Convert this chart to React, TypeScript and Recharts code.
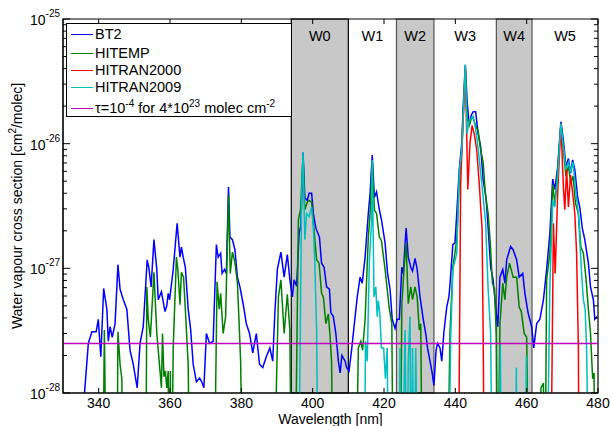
import React from 'react';
import { ComposedChart, Line, XAxis, YAxis, ReferenceArea, Legend } from 'recharts';

// wavelengths in nm, cross sections in cm^2/molec (values under 1e-28 fall off the plot)
const bt2Wl = [335.5, 337.1, 338.1, 339.3, 339.9, 340.6, 341.4, 342.3, 342.7, 343.2, 343.8, 344.6, 345.4, 346.0, 346.9, 347.9, 348.8, 349.7, 350.8, 351.6, 352.5, 353.6, 354.1, 354.7, 355.5, 356.3, 356.7, 357.6, 358.6, 359.1, 359.5, 359.9, 360.9, 362.0, 362.8, 363.2, 363.7, 364.3, 365.1, 365.8, 366.5, 367.4, 368.3, 368.9, 369.5, 370.2, 371.1, 372.1, 373.0, 373.5, 374.2, 374.6, 375.3, 375.8, 376.4, 376.8, 377.5, 378.2, 378.9, 379.6, 380.5, 381.4, 382.3, 383.2, 384.2, 385.1, 386.0, 387.0, 388.0, 388.8, 389.4, 390.1, 391.1, 392.0, 392.9, 393.6, 394.3, 394.8, 395.5, 396.2, 396.7, 397.3, 397.8, 398.5, 399.0, 399.7, 400.2, 400.9, 401.9, 402.5, 403.2, 403.9, 404.7, 405.1, 405.8, 406.5, 407.2, 407.7, 408.2, 409.1, 409.5, 410.2, 410.9, 411.9, 412.5, 413.3, 413.9, 414.7, 415.6, 416.1, 416.7, 417.3, 417.9, 418.7, 419.3, 420.3, 421.0, 421.7, 422.3, 423.1, 423.7, 424.3, 425.0, 425.4, 426.2, 426.8, 427.5, 428.0, 428.7, 429.3, 430.1, 431.0, 431.7, 432.2, 432.9, 433.5, 434.0, 434.6, 435.0, 435.7, 436.2, 436.8, 437.6, 438.2, 438.5, 439.3, 439.9, 440.4, 441.1, 441.8, 442.2, 442.8, 443.3, 443.9, 444.5, 445.0, 445.7, 446.4, 447.1, 447.8, 448.6, 449.2, 449.9, 450.6, 451.3, 451.9, 452.5, 453.3, 453.9, 454.4, 455.5, 456.2, 457.2, 457.9, 458.9, 459.5, 460.4, 461.4, 462.0, 462.8, 463.7, 464.7, 465.6, 466.5, 467.3, 467.9, 468.7, 469.6, 470.3, 471.0, 471.7, 472.3, 472.9, 473.5, 474.3, 474.9, 475.6, 476.3, 477.3, 477.9, 478.7, 479.1, 479.8];
const bt2Val = [6.3e-29, 2.5e-28, 3.1e-28, 3.1e-28, 3.9e-28, 1.95e-28, 6.9e-28, 4.7e-28, 2.6e-28, 3.4e-28, 2.8e-28, 3.6e-28, 1.07e-27, 6.8e-28, 5.6e-28, 4.7e-28, 2.2e-28, 1.7e-28, 1.1e-28, 2.5e-28, 3.4e-28, 1.17e-27, 1.0e-27, 7.1e-28, 1.7e-27, 9.8e-28, 5.6e-28, 6.5e-28, 4.5e-28, 5.0e-28, 6.3e-28, 5.6e-28, 9.8e-28, 2.3e-27, 1.23e-27, 1.48e-27, 1.23e-27, 1.02e-27, 4.7e-28, 3.2e-28, 1.7e-28, 1.23e-28, 1.32e-28, 1.23e-28, 1.1e-28, 3.0e-28, 2.5e-28, 2.6e-28, 1.55e-27, 1.23e-27, 1.32e-27, 9.1e-28, 9.8e-28, 9.1e-28, 4.5e-27, 1.78e-27, 1.7e-27, 1.41e-27, 8.5e-28, 7.1e-28, 5.2e-28, 3.6e-28, 3.0e-28, 2.1e-28, 3.0e-28, 1.7e-28, 1.6e-28, 1.95e-28, 2.3e-28, 1.8e-28, 4.4e-28, 9.8e-28, 1.35e-27, 8.5e-28, 1.29e-27, 8.1e-28, 5.9e-28, 8.1e-28, 7.2e-28, 1.9e-27, 2.2e-27, 8.5e-27, 3.7e-27, 3.5e-27, 4.0e-27, 4.0e-27, 2.75e-27, 2.1e-27, 1.78e-27, 1.1e-27, 1.02e-27, 7.1e-28, 6.8e-28, 4.4e-28, 4.1e-28, 3.0e-28, 1.8e-28, 1.45e-28, 2.0e-28, 1.8e-28, 1.6e-28, 1.5e-28, 2.2e-28, 4.1e-28, 5.9e-28, 8.5e-28, 7.6e-28, 1.23e-27, 2.75e-27, 4.0e-27, 8.1e-27, 3.7e-27, 4.1e-27, 2.95e-27, 2.45e-27, 1.6e-27, 9.1e-28, 6.8e-28, 3.9e-28, 3.3e-28, 3.9e-28, 3.9e-28, 1.02e-27, 9.1e-28, 2.1e-27, 1.23e-27, 1.02e-27, 9.5e-28, 1.2e-27, 9.8e-28, 5.9e-28, 3.9e-28, 3.0e-28, 2.3e-28, 1.8e-28, 1.45e-28, 1.15e-28, 2.2e-28, 2.5e-28, 2.3e-28, 1.8e-28, 3.1e-28, 4.9e-28, 5.9e-28, 7.4e-28, 1.55e-27, 1.6e-27, 2.75e-27, 6.2e-27, 1.0e-26, 2.0e-26, 4.3e-26, 2.2e-26, 1.4e-26, 1.7e-26, 1.8e-26, 1.8e-26, 1.2e-26, 9.5e-27, 5.1e-27, 3.7e-27, 2.1e-27, 1.02e-27, 8.1e-28, 4.9e-28, 3.4e-28, 8.5e-28, 9.8e-28, 7.6e-28, 1.17e-27, 1.5e-27, 1.41e-27, 1.17e-27, 8.5e-28, 9.1e-28, 6.3e-28, 4.4e-28, 3.4e-28, 2.3e-28, 3.6e-28, 3.9e-28, 5.6e-28, 9.8e-28, 1.9e-27, 5.2e-27, 4.3e-27, 6.5e-27, 1.5e-26, 1.07e-26, 6.5e-27, 7.6e-27, 5.8e-27, 7.4e-27, 6.2e-27, 3.7e-27, 3.1e-27, 2.1e-27, 1.7e-27, 1.1e-27, 7.1e-28, 5.6e-28, 3.9e-28, 4.1e-28];

const hitempWl = [341.1, 341.6, 342.2, 345.1, 345.4, 346.0, 346.5, 346.8, 353.2, 353.5, 353.9, 354.5, 355.5, 356.3, 357.2, 357.6, 357.9, 358.3, 358.7, 359.1, 359.5, 359.8, 360.1, 360.4, 360.9, 361.8, 362.2, 362.8, 363.2, 363.8, 364.3, 365.1, 365.6, 372.3, 373.2, 373.8, 374.2, 374.9, 375.6, 376.4, 376.9, 377.5, 378.2, 378.9, 379.3, 379.8, 380.5, 389.0, 390.4, 391.1, 392.0, 392.9, 393.6, 394.1, 395.0, 396.0, 396.6, 397.3, 397.8, 398.5, 399.0, 399.7, 400.4, 401.1, 401.8, 402.5, 403.0, 403.7, 404.4, 404.9, 405.3, 405.8, 412.1, 412.8, 413.5, 414.0, 414.7, 415.6, 416.1, 416.7, 417.3, 417.9, 418.7, 419.3, 420.3, 420.9, 421.5, 422.2, 422.6, 424.5, 425.0, 425.6, 426.2, 426.8, 427.5, 428.0, 428.7, 429.3, 429.9, 430.3, 430.8, 437.7, 438.5, 439.3, 440.4, 441.1, 441.8, 442.2, 442.8, 443.3, 443.9, 444.5, 445.0, 445.7, 446.4, 447.1, 447.8, 448.4, 449.2, 449.8, 450.4, 451.0, 451.5, 451.9, 452.5, 453.3, 453.9, 454.4, 455.2, 456.2, 457.2, 457.9, 458.5, 459.3, 460.0, 460.6, 463.8, 464.0, 464.7, 465.1, 465.6, 466.5, 467.3, 467.9, 468.7, 469.6, 470.3, 471.0, 471.7, 472.4, 473.0, 473.7, 474.5, 475.2, 475.9, 476.6, 477.3, 477.9, 478.5, 478.9, 479.2];
const hitempVal = [1e-29, 3.2e-28, 1e-29, 1e-29, 3.1e-28, 1.7e-28, 1.3e-28, 1e-29, 1e-29, 7.1e-28, 3.9e-28, 2.8e-28, 9.3e-28, 3.0e-28, 1.5e-28, 1.1e-28, 3.0e-28, 1.35e-28, 1.5e-28, 1.1e-28, 1.5e-28, 1e-29, 1.5e-28, 1e-29, 2.3e-28, 1.23e-27, 9.8e-28, 5.1e-28, 9.3e-28, 8.5e-28, 4.7e-28, 1.7e-28, 1e-29, 1e-29, 7.8e-28, 4.7e-28, 6.3e-28, 3.0e-28, 4.1e-28, 3.9e-27, 9.1e-28, 1.35e-27, 1.12e-27, 7.6e-28, 4.1e-28, 1.8e-28, 1e-29, 1e-29, 5.9e-28, 8.1e-28, 3.0e-28, 6.2e-28, 3.2e-28, 1e-29, 1e-29, 2.45e-27, 2.95e-27, 8.1e-27, 2.95e-27, 3.4e-27, 3.5e-27, 3.4e-27, 2.0e-27, 1.17e-27, 1.1e-27, 6.3e-28, 5.9e-28, 3.6e-28, 4.3e-28, 2.8e-28, 1.8e-28, 1e-29, 1e-29, 2.3e-28, 2.6e-28, 2.2e-28, 3.9e-28, 1.78e-27, 2.75e-27, 7.4e-27, 2.95e-27, 2.75e-27, 1.78e-27, 1.66e-27, 9.8e-28, 6.8e-28, 4.7e-28, 3.6e-28, 1e-29, 1e-29, 5.2e-28, 9.8e-28, 1.6e-27, 5.2e-28, 7.1e-28, 5.6e-28, 7.1e-28, 5.9e-28, 3.2e-28, 3.6e-28, 1e-29, 1e-29, 3.0e-28, 1.02e-27, 1.7e-27, 5.0e-27, 8.9e-27, 1.6e-26, 4.0e-26, 1.6e-26, 1.4e-26, 1.6e-26, 1.6e-26, 1.4e-26, 1.26e-26, 8.9e-27, 7.1e-27, 4.0e-27, 2.75e-27, 1.6e-27, 7.6e-28, 6.8e-28, 2.8e-28, 1e-29, 3.6e-28, 7.6e-28, 5.6e-28, 8.5e-28, 1.1e-27, 8.5e-28, 8.5e-28, 4.9e-28, 4.5e-28, 3.0e-28, 2.8e-28, 1e-29, 1e-29, 1.1e-28, 1.2e-28, 1e-29, 8.1e-28, 1.32e-27, 4.7e-27, 3.3e-27, 6.2e-27, 1.4e-26, 8.9e-27, 5.5e-27, 6.6e-27, 4.8e-27, 5.5e-27, 3.3e-27, 2.75e-27, 1.48e-27, 1.32e-27, 8.5e-28, 4.7e-28, 3.0e-28, 1.3e-28, 1.45e-28, 1e-29];

const hitran2000Wl = [440.8, 441.5, 442.2, 442.8, 443.5, 444.1, 444.7, 445.3, 446.0, 446.7, 447.2, 447.5, 447.8, 448.2, 466.7, 467.5, 468.0, 468.7, 469.6, 470.3, 470.7, 471.2, 471.7, 472.3, 472.9, 473.5, 474.0, 474.5, 474.7];
const hitran2000Val = [1e-29, 4.8e-27, 1.6e-26, 4.0e-26, 4.3e-27, 1.0e-26, 1.4e-26, 1.2e-26, 8.9e-27, 4.8e-27, 2.8e-27, 2.1e-27, 3.0e-28, 1e-29, 1e-29, 2.3e-27, 9.1e-28, 4.0e-27, 1.45e-26, 4.5e-27, 2.95e-27, 6.3e-27, 3.1e-27, 5.6e-27, 4.0e-27, 2.75e-27, 1.32e-27, 2.3e-28, 1e-29];

const hitran2009Wl = [396.0, 396.9, 397.3, 397.8, 398.3, 399.0, 399.7, 400.2, 400.6, 401.1, 401.6, 414.5, 414.8, 415.3, 415.9, 416.5, 416.7, 417.2, 417.7, 418.1, 418.4, 418.8, 419.3, 419.9, 420.4, 420.9, 421.3, 424.2, 424.5, 425.0, 425.9, 426.5, 426.8, 427.3, 427.6, 428.0, 428.4, 428.9, 429.5, 438.0, 438.7, 439.3, 440.4, 441.1, 441.8, 442.8, 443.3, 443.9, 444.5, 445.0, 445.7, 446.4, 447.1, 447.8, 448.5, 449.2, 449.9, 450.4, 452.2, 452.6, 453.0, 456.8, 457.1, 457.4, 459.6, 459.9, 460.2, 465.6, 466.5, 467.3, 467.9, 468.7, 469.6, 470.3, 471.0, 471.7, 472.3, 473.0, 473.7, 474.5, 475.4, 475.9, 476.4, 476.8, 477.5];
const hitran2009Val = [1e-29, 3.7e-27, 8.5e-27, 1.7e-27, 2.75e-27, 2.6e-27, 3.1e-27, 2.1e-27, 1.1e-27, 3.2e-28, 1e-29, 1e-29, 2.6e-28, 1.8e-28, 1.17e-27, 2.3e-27, 7.4e-27, 5.9e-28, 7.1e-28, 4.1e-28, 5.5e-28, 4.4e-28, 2.3e-28, 2.3e-28, 1.3e-28, 2.3e-28, 1e-29, 1e-29, 2.3e-28, 1e-29, 3.2e-28, 1e-29, 1.8e-28, 4.1e-28, 1e-29, 2.3e-28, 1e-29, 2.3e-28, 1e-29, 1e-29, 2.8e-28, 9.8e-28, 1.32e-27, 5.8e-27, 8.9e-27, 4.3e-26, 1.2e-26, 1.55e-26, 1.6e-26, 1.66e-26, 1.3e-26, 9.1e-27, 5.8e-27, 3.7e-27, 2.3e-27, 6.8e-28, 3.0e-28, 1e-29, 1e-29, 2.5e-28, 1e-29, 1e-29, 1.6e-28, 1e-29, 1e-29, 2.0e-28, 1e-29, 1e-29, 7.1e-28, 3.5e-27, 3.1e-27, 5.5e-27, 1.45e-26, 9.5e-27, 6.2e-27, 7.1e-27, 5.9e-27, 7.1e-27, 4.3e-27, 2.75e-27, 9.1e-28, 5.6e-28, 4.7e-28, 2.3e-28, 1e-29];

const tauWl = [330, 480];
const tauVal = [2.5e-28, 2.5e-28];

const xTicks = [340, 360, 380, 400, 420, 440, 460, 480];
const yTicks = [
  1e-28, 2e-28, 3e-28, 4e-28, 5e-28, 6e-28, 7e-28, 8e-28, 9e-28,
  1e-27, 2e-27, 3e-27, 4e-27, 5e-27, 6e-27, 7e-27, 8e-27, 9e-27,
  1e-26, 2e-26, 3e-26, 4e-26, 5e-26, 6e-26, 7e-26, 8e-26, 9e-26,
  1e-25,
];

const windowNames = ['W0', 'W1', 'W2', 'W3', 'W4', 'W5'];
const windowStart = [394, 410, 423.5, 434, 451.5, 461.5];
const windowEnd = [410, 423.5, 434, 451.5, 461.5, 480];

const seriesNames = ['BT2', 'HITEMP', 'HITRAN2000', 'HITRAN2009', 'tau'];
const seriesColors = ['#0000ff', '#008000', '#ff0000', '#00bfbf', '#bf00bf'];

const FONT = '"Liberation Sans", Arial, Helvetica, sans-serif';
const PLOT_L = 63;
const PLOT_R = 598;
const PLOT_T = 19;
const PLOT_B = 393;

const toPoints = (wl: number[], val: number[]) => wl.map((x, i) => ({ x, y: val[i] }));

const bt2Data = toPoints(bt2Wl, bt2Val);
const hitempData = toPoints(hitempWl, hitempVal);
const hitran2000Data = toPoints(hitran2000Wl, hitran2000Val);
const hitran2009Data = toPoints(hitran2009Wl, hitran2009Val);
const tauData = toPoints(tauWl, tauVal);

function XTick(props: any) {
  const { x, payload } = props;
  return (
    <g>
      <line x1={x} x2={x} y1={PLOT_B} y2={PLOT_B - 5} stroke="#000" />
      <line x1={x} x2={x} y1={PLOT_T} y2={PLOT_T + 5} stroke="#000" />
      <text x={x} y={408} textAnchor="middle" fontSize={14} fontFamily={FONT} fill="#000">
        {payload.value}
      </text>
    </g>
  );
}

function YTick(props: any) {
  const { y, payload } = props;
  const lg = Math.log10(payload.value);
  const major = Math.abs(lg - Math.round(lg)) < 1e-6;
  const len = major ? 7 : 4;
  return (
    <g>
      <line x1={PLOT_L} x2={PLOT_L + len} y1={y} y2={y} stroke="#000" />
      <line x1={PLOT_R} x2={PLOT_R - len} y1={y} y2={y} stroke="#000" />
      {major && (
        <text x={PLOT_L - 3} y={y + 6} textAnchor="end" fontSize={14} fontFamily={FONT} fill="#000">
          <tspan>10</tspan>
          <tspan fontSize={10} dy={-8}>{Math.round(lg)}</tspan>
        </text>
      )}
    </g>
  );
}

function legendLabel(name: string) {
  if (name !== 'tau') return name;
  const sup = { fontSize: 10, verticalAlign: 'super', lineHeight: 0 } as React.CSSProperties;
  return (
    <>
      τ=10<span style={sup}>-4</span> for 4*10<span style={sup}>23</span> molec cm<span style={sup}>-2</span>
    </>
  );
}

const rowTops = [1, 20, 37, 54, 75];

function LegendBox() {
  return (
    <div
      style={{
        position: 'relative',
        width: 226,
        height: 94,
        boxSizing: 'border-box',
        border: '1.5px solid #000',
        background: '#fff',
        fontFamily: FONT,
        fontSize: 14.5,
        color: '#000',
      }}
    >
      {seriesNames.map((name, i) => (
        <div
          key={name}
          style={{ position: 'absolute', left: 4, top: rowTops[i], height: 18, display: 'flex', alignItems: 'center', whiteSpace: 'nowrap' }}
        >
          <span style={{ display: 'inline-block', width: 22, height: 0, borderTop: `1.5px solid ${seriesColors[i]}`, marginRight: 2 }} />
          <span>{legendLabel(name)}</span>
        </div>
      ))}
    </div>
  );
}

export default function App() {
  return (
    <div style={{ position: 'absolute', left: 0, top: 0, width: 611, height: 426, background: '#fff' }}>
      <ComposedChart width={611} height={426} margin={{ top: 19, right: 13, bottom: 0, left: 0 }}>
        {windowNames.map((w, i) => (
          <ReferenceArea
            key={w}
            x1={windowStart[i]}
            x2={windowEnd[i]}
            y1={1e-28}
            y2={1e-25}
            fill={i % 2 === 0 ? '#c8c8c8' : '#ffffff'}
            fillOpacity={i % 2 === 0 ? 1 : 0}
            stroke={i % 2 === 0 ? (i === 0 ? '#000' : '#555') : 'none'}
            strokeWidth={1.2}
            label={{ value: w, position: 'insideTop', offset: 12, fontSize: 14.5, fill: '#000', fontFamily: FONT }}
          />
        ))}
        <XAxis
          type="number"
          dataKey="x"
          domain={[330, 480]}
          allowDataOverflow
          ticks={xTicks}
          interval={0}
          tickLine={false}
          axisLine={{ stroke: '#000' }}
          tick={<XTick />}
          height={33}
          label={{
            content: () => (
              <text x={(PLOT_L + PLOT_R) / 2} y={424} textAnchor="middle" fontSize={14} fontFamily={FONT} fill="#000">
                Wavelength [nm]
              </text>
            ),
          }}
        />
        <YAxis
          type="number"
          scale="log"
          domain={[1e-28, 1e-25]}
          allowDataOverflow
          ticks={yTicks}
          interval={0}
          tickLine={false}
          axisLine={{ stroke: '#000' }}
          tick={<YTick />}
          width={63}
          label={{
            content: () => (
              <text transform={`translate(22,${(PLOT_T + PLOT_B) / 2}) rotate(-90)`} textAnchor="middle" fontSize={14} fontFamily={FONT} fill="#000">
                Water vapour cross section [cm<tspan fontSize={10} dy={-6}>2</tspan>
                <tspan dy={6}>/molec]</tspan>
              </text>
            ),
          }}
        />
        <Line data={bt2Data} dataKey="y" name="BT2" stroke={seriesColors[0]} strokeWidth={1.5} dot={false} isAnimationActive={false} />
        <Line data={hitempData} dataKey="y" name="HITEMP" stroke={seriesColors[1]} strokeWidth={1.5} dot={false} isAnimationActive={false} />
        <Line data={hitran2000Data} dataKey="y" name="HITRAN2000" stroke={seriesColors[2]} strokeWidth={1.5} dot={false} isAnimationActive={false} />
        <Line data={hitran2009Data} dataKey="y" name="HITRAN2009" stroke={seriesColors[3]} strokeWidth={1.5} dot={false} isAnimationActive={false} />
        <Line data={tauData} dataKey="y" name="tau" stroke={seriesColors[4]} strokeWidth={1.5} dot={false} isAnimationActive={false} />
        <ReferenceArea x1={330} x2={480} y1={1e-28} y2={1e-25} fill="none" stroke="#000" strokeWidth={1.2} />
        <Legend
          layout="vertical"
          align="center"
          verticalAlign="middle"
          wrapperStyle={{ left: 66, top: 23, width: 226, height: 94 }}
          content={<LegendBox />}
        />
      </ComposedChart>
    </div>
  );
}
